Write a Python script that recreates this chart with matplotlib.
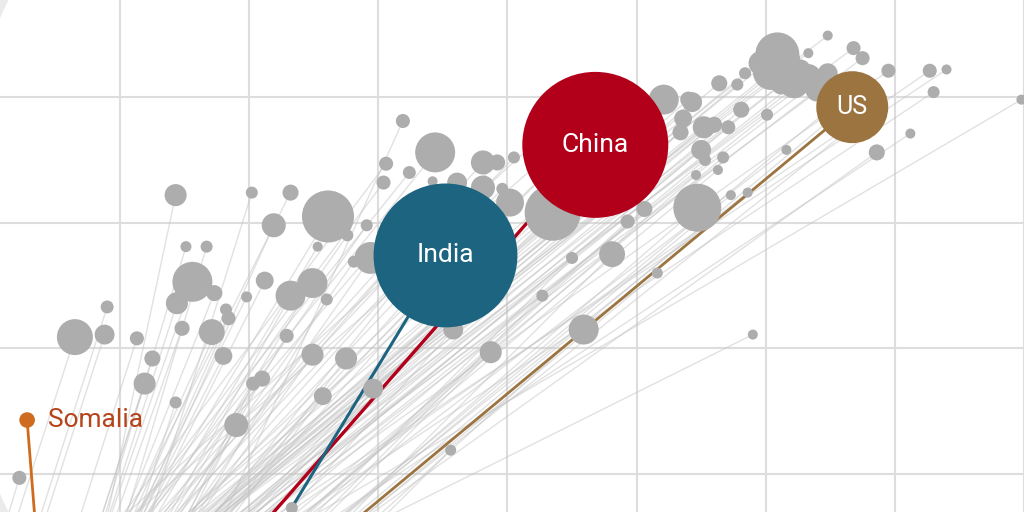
import matplotlib.pyplot as plt
import numpy as np
from matplotlib.path import Path
from matplotlib.patches import PathPatch

# income level in log2 steps above $1000 (gridlines at 1k, 2k, 4k ... 128k)
income = [
    -0.35, -0.12, -0.10, 0.13, 0.25, 0.19, 0.43, 0.43, 0.51, 0.67,
    0.56, 0.73, 0.44, 0.48, 0.71, 0.82, 0.84, 0.80, 0.90, 1.02,
    1.32, 1.19, 1.61, 1.12, 1.32, 1.49, 1.60, 0.98, 1.53, 1.29,
    1.49, 1.75, 1.03, 1.10, 1.57, 1.96, -0.78, 1.33, 2.56, 2.87,
    1.76, 1.91, 2.06, 2.04, 2.19, 2.44, 2.24, 2.42, 2.61, 2.81,
    2.92, 3.05, 2.81, 2.96, 3.02, 1.94, 1.81, 2.58, 3.35, 3.93,
    4.06, 4.47, 3.81, 3.50, 3.27, 3.59, 4.16, 4.90, 4.21, 4.43,
    4.36, 4.52, 4.60, 4.71, 4.50, 4.67, 4.63, 4.46, 4.53, 4.73,
    4.86, 4.34, 4.81, 4.64, 4.78, 4.84, 4.40, 5.09, 5.04, 5.22,
    4.96, 5.33, 5.40, 5.48, 5.33, 5.48, 5.68, 5.75, 5.95, 6.27,
    6.40, 6.30, 6.12, 5.86, 6.98, 5.16, 5.01,
    # mostly hidden behind the big bubbles
    3.41, 3.72, 3.88, 3.57, 4.03, 3.49, 3.80, 3.33, 2.33, 2.64,
    2.48, 2.79, 2.25, 2.71, 5.58, 5.74, 5.50, 5.19, 5.27, 5.12,
]
life_exp = [
    60.9, 61.1, 63.3, 60.8, 59.2, 57.2, 55.7, 72.2, 68.1, 68.1,
    65.3, 64.4, 63.6, 61.6, 61.3, 63.1, 62.4, 59.4, 53.9, 72.4,
    72.4, 69.8, 70.5, 65.4, 64.2, 65.2, 63.9, 64.1, 68.1, 61.0,
    59.5, 59.2, 57.2, 57.6, 56.2, 56.8, 49.7, 47.3, 51.9, 59.7,
    69.0, 69.8, 74.7, 73.2, 78.1, 75.6, 74.0, 73.3, 73.2, 74.8,
    74.8, 75.2, 72.8, 72.7, 71.6, 67.2, 66.9, 61.5, 70.8, 70.1,
    71.1, 71.2, 67.5, 67.2, 64.2, 61.5, 66.0, 61.1, 79.8, 79.6,
    78.3, 77.6, 77.8, 77.6, 75.8, 75.2, 74.2, 73.8, 75.0, 72.2,
    72.4, 77.2, 79.0, 81.1, 81.0, 81.9, 79.8, 83.4, 82.0, 81.1,
    82.7, 81.6, 80.6, 81.9, 83.5, 84.9, 83.9, 83.1, 82.1, 82.1,
    82.2, 80.4, 77.1, 75.6, 79.8, 75.8, 78.6,
    78.2, 79.0, 75.0, 73.4, 76.6, 75.8, 72.6, 74.2, 69.4, 68.6,
    65.4, 66.2, 66.2, 63.9, 79.8, 78.2, 78.2, 83.0, 82.2, 81.0,
]
population = [
    85, 26, 11, 13, 17, 32, 9.5, 32, 8, 9.5,
    105, 17, 32, 15, 44, 9.5, 13, 21, 38, 9.5,
    17, 38, 178, 21, 59, 59, 9.5, 8, 6.6, 13,
    32, 32, 13, 17, 21, 26, 13, 9.5, 8, 32,
    9.5, 9.5, 13, 13, 13, 105, 11, 6.6, 26, 38,
    17, 9.5, 38, 9.5, 51, 67, 9.5, 26, 206, 13,
    17, 151, 44, 9.5, 9.5, 59, 8, 6.6, 59, 26,
    21, 32, 17, 13, 26, 9.5, 6.6, 6.6, 9.5, 6.6,
    6.6, 17, 17, 17, 9.5, 9.5, 17, 127, 85, 59,
    38, 44, 38, 26, 6.6, 6.6, 13, 13, 13, 13,
    6.6, 9.5, 6.6, 17, 6.6, 6.6, 9.5,
    9.5, 9.5, 9.5, 9.5, 6.6, 9.5, 9.5, 9.5, 9.5, 9.5,
    9.5, 9.5, 9.5, 9.5, 6.6, 6.6, 6.6, 26, 26, 26,
]
# income level where each trail starts (life expectancy 35)
trail_start = [
    -1.16, -0.94, -0.98, -0.67, -0.51, -0.51, -0.22, -0.34, -0.46, -0.29,
    -0.47, -0.42, -0.45, -0.43, -0.45, -0.41, -0.36, -0.40, -0.02, -0.12,
    -0.51, -0.34, -0.47, -0.36, -0.25, -0.28, -0.09, -0.43, -0.40, -0.22,
    -0.19, -0.02, -0.05, -0.11, 0.02, 0.26, -1.21, 0.37, 0.91, 0.46,
    -0.57, -0.47, -0.84, -0.75, 0.29, -0.72, -0.80, -0.76, -0.74, -0.68,
    -0.77, -0.67, -0.50, -0.53, -0.36, -0.26, -0.37, 0.26, -0.14, 0.17,
    0.19, 0.42, 0.64, 0.36, 0.42, 0.75, 0.53, -0.20, -0.81, -0.56,
    -0.50, -0.47, -0.41, -0.28, -0.28, -0.03, 0.04, 0.11, -0.15, 0.37,
    0.29, -0.40, -0.34, -0.76, -0.60, -0.64, -0.61, -0.80, -0.69, -0.40,
    -0.85, -0.58, -0.37, -0.47, -0.81, -0.84, -0.75, -0.58, -0.48, -0.38,
    -0.51, -0.33, -0.04, 0.33, -0.44, -0.02, -0.30,
    -1.22, -1.21, -0.60, -0.55, -0.84, -0.69, -0.60, -0.49, -0.53, -0.32,
    -0.19, -0.10, -0.19, -0.10, 0.34, 0.47, 0.45, -0.65, -0.71, -0.49,
]
trail_start_life = 35

names = ["China", "India", "US", "Somalia"]
hl_income = [3.68, 2.52, 5.67, -0.72]
hl_life = [76.2, 67.4, 79.2, 54.3]
hl_pop = [1400, 1360, 340, 16]
hl_start_income = [1.15, 1.34, 1.84, -0.66]
hl_start_life = [46.5, 47.5, 46.5, 46.5]
hl_colors = ["#b2001b", "#1d6480", "#9c7440", "#cf6b1e"]

size_scale = 7.89  # points^2 per million people

plt.rcParams["font.family"] = ["Roboto", "DejaVu Sans"]

fig = plt.figure(figsize=(10.24, 5.12), dpi=100)
ax = fig.add_axes([0, 0, 1, 1])
ax.set_xlim(-0.93, 7.0)
ax.set_ylim(46.98, 87.73)
ax.set_xticks(range(0, 8))
ax.set_yticks([50, 60, 70, 80])
ax.grid(color="#dddddd", lw=1.5)
ax.set_axisbelow(True)
ax.tick_params(length=0, labelbottom=False, labelleft=False)
for s in ax.spines.values():
    s.set_visible(False)

# trails
for x0, x1, y1 in zip(trail_start, income, life_exp):
    ax.plot([x0, x1], [trail_start_life, y1], color="#c4c4c4", lw=1.0,
            alpha=0.5, zorder=1, solid_capstyle="butt")

lws = [2.4, 2.2, 2.0, 2.0]
for i in range(len(names)):
    ax.plot([hl_start_income[i], hl_income[i]], [hl_start_life[i], hl_life[i]],
            color=hl_colors[i], lw=lws[i], zorder=2)

ax.scatter(income, life_exp, s=np.array(population) * size_scale,
           color="#adadad", linewidths=0, zorder=3)
ax.scatter(hl_income, hl_life, s=np.array(hl_pop) * size_scale,
           color=hl_colors, linewidths=0, zorder=4)

for i in range(3):
    ax.text(hl_income[i], hl_life[i], names[i], color="white",
            fontsize=19 if i < 2 else 18, ha="center", va="center", zorder=5)
ax.text(hl_income[3] + 0.16, hl_life[3], names[3], color="#b5441b",
        fontsize=19, ha="left", va="center", zorder=5)

# light corner shading outside the round frame
t = np.linspace(0, 2 * np.pi, 300)
cx = (540 + 590 * np.cos(t)) / 1024
cy = (256 + 590 * np.sin(t)) / 512
outer = [(-0.1, -0.1), (1.1, -0.1), (1.1, 1.1), (-0.1, 1.1), (-0.1, -0.1)]
verts = outer + list(zip(cx[::-1], cy[::-1]))
codes = [Path.MOVETO] + [Path.LINETO] * 3 + [Path.CLOSEPOLY]
codes += [Path.MOVETO] + [Path.LINETO] * (len(cx) - 1)
fig.patches.append(PathPatch(Path(verts, codes), facecolor="#ebebeb",
                             edgecolor="none", transform=fig.transFigure))

fig.savefig("out.png", dpi=100)
